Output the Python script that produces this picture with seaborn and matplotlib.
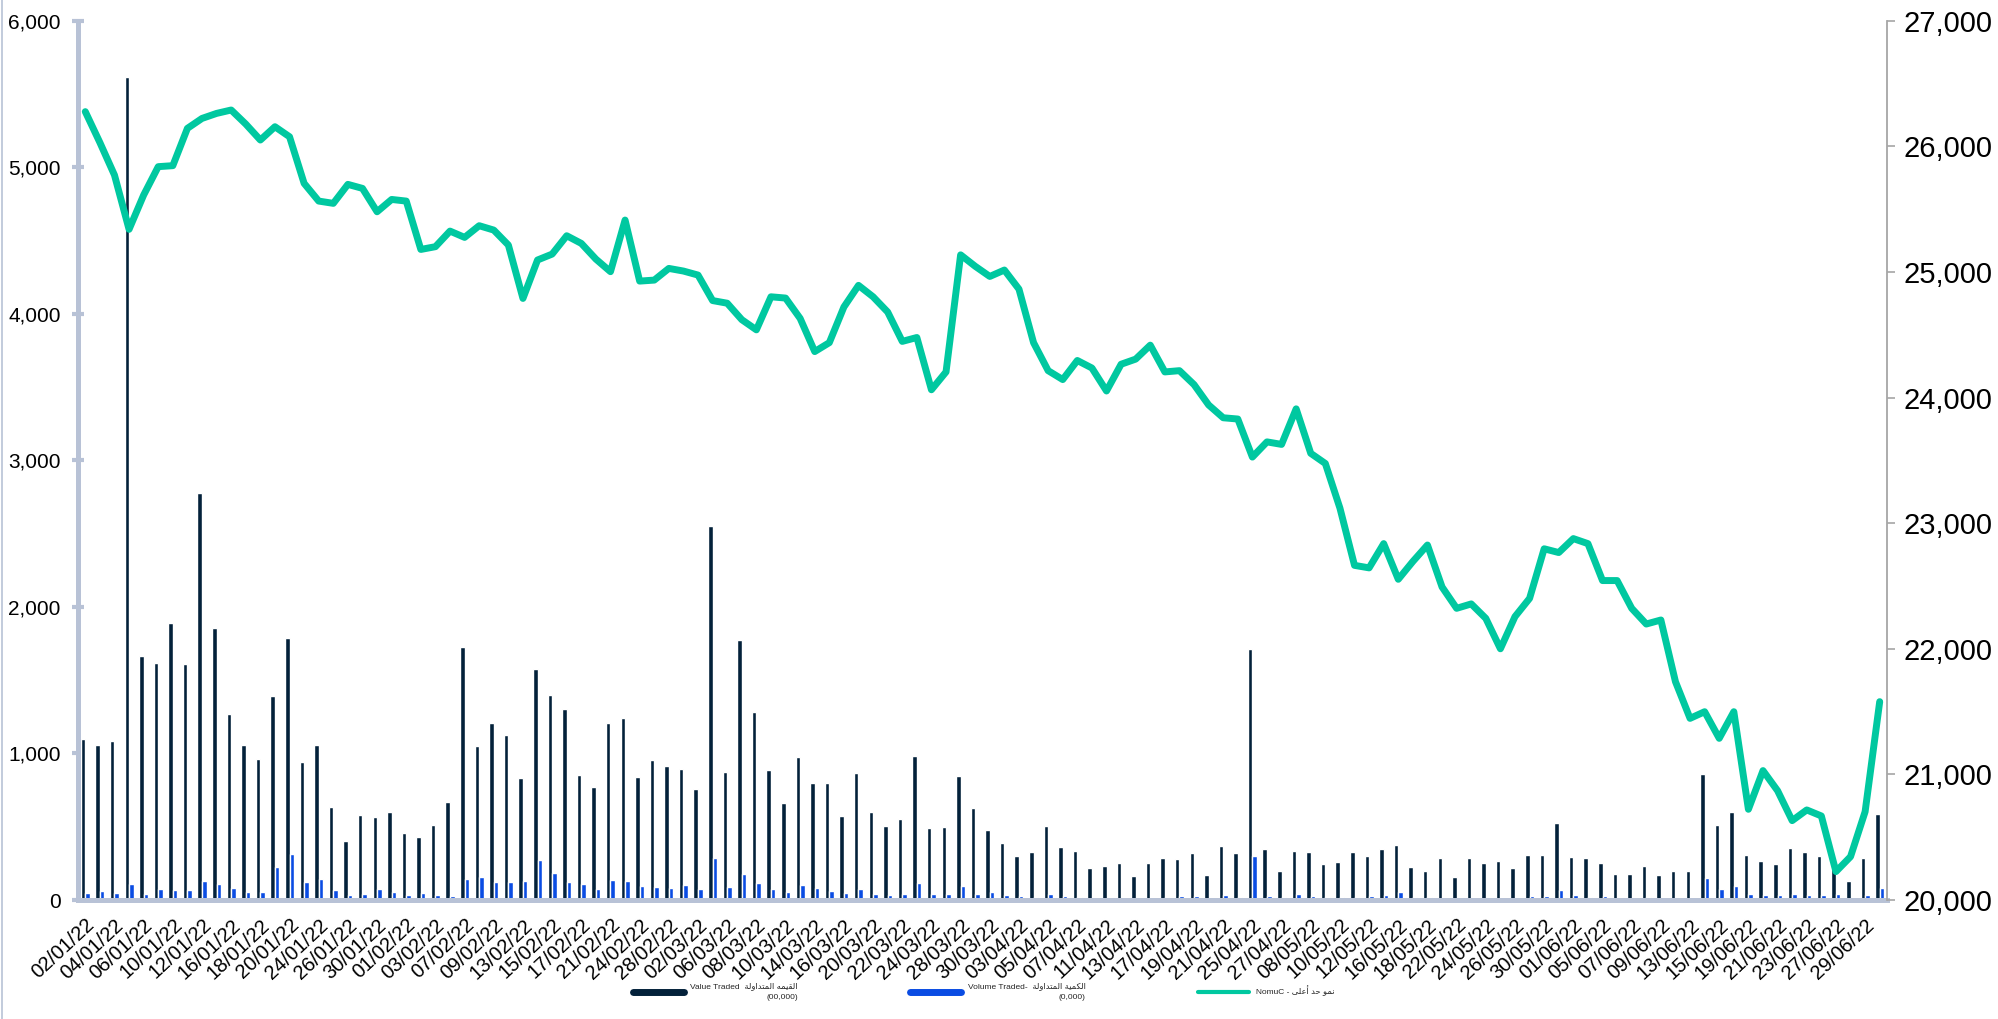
import numpy as np
import pandas as pd
import matplotlib
matplotlib.use("Agg")
import matplotlib.pyplot as plt
import matplotlib.ticker as mticker
from matplotlib.lines import Line2D
import seaborn as sns

# trading days (dd/mm/yy)
jan = ["02", "03", "04", "05", "06", "09", "10", "11", "12", "13", "16", "17", "18", "19", "20",
       "23", "24", "25", "26", "27", "30", "31"]
feb = ["01", "02", "03", "06", "07", "08", "09", "10", "13", "14", "15", "16", "17", "20", "21",
       "22", "24", "27", "28"]
mar = ["01", "02", "03", "06", "07", "08", "09", "10", "13", "14", "15", "16", "17", "20", "21",
       "22", "23", "24", "27", "28", "29", "30", "31"]
apr = ["03", "04", "05", "06", "07", "10", "11", "12", "13", "14", "17", "18", "19", "20", "21",
       "24", "25", "26", "27", "28"]
may = ["08", "09", "10", "11", "12", "15", "16", "17", "18", "19", "22", "23", "24", "25", "26",
       "29", "30", "31"]
jun = ["01", "02", "05", "06", "07", "08", "09", "12", "13", "14", "15", "16", "19", "20", "21",
       "22", "23", "26", "27", "28", "29", "30"]
dates = ([d + "/01/22" for d in jan] + [d + "/02/22" for d in feb] + [d + "/03/22" for d in mar]
         + [d + "/04/22" for d in apr] + [d + "/05/22" for d in may] + [d + "/06/22" for d in jun])

# value traded (00,000)
value_traded = [1100, 1060, 1085, 5615, 1665, 1615, 1890, 1610, 2780, 1855,
                1270, 1060, 965, 1395, 1785, 940, 1055, 635, 400, 580,
                565, 600, 455, 430, 515, 670, 1725, 1050, 1205, 1125,
                835, 1575, 1400, 1300, 850, 770, 1205, 1245, 840, 955,
                915, 895, 760, 2550, 875, 1775, 1280, 885, 665, 975,
                800, 800, 570, 865, 600, 505, 555, 980, 490, 495,
                845, 625, 480, 390, 300, 330, 505, 360, 335, 220,
                230, 250, 165, 255, 285, 280, 320, 170, 370, 320,
                1715, 350, 200, 335, 325, 245, 260, 330, 300, 345,
                375, 225, 200, 285, 160, 285, 250, 265, 215, 305,
                305, 525, 295, 285, 250, 180, 175, 235, 170, 195,
                200, 860, 510, 600, 305, 265, 245, 355, 330, 300,
                225, 130, 290, 585]

# volume traded (0,000)
volume_traded = [50, 61, 45, 109, 43, 73, 70, 66, 132, 107,
                 84, 55, 55, 225, 316, 120, 143, 66, 36, 43,
                 75, 52, 34, 45, 34, 30, 143, 157, 123, 125,
                 132, 273, 186, 125, 111, 73, 134, 127, 95, 86,
                 80, 102, 75, 284, 86, 180, 118, 75, 55, 100,
                 84, 64, 50, 75, 41, 34, 41, 118, 43, 43,
                 98, 43, 55, 34, 25, 23, 39, 30, 20, 7,
                 11, 14, 11, 11, 20, 30, 25, 14, 34, 23,
                 302, 30, 18, 41, 30, 20, 23, 20, 27, 34,
                 55, 23, 23, 14, 14, 7, 11, 14, 14, 30,
                 27, 68, 34, 20, 27, 16, 9, 20, 7, 16,
                 16, 152, 75, 95, 39, 32, 32, 41, 34, 34,
                 43, 5, 34, 84]

# NomuC index
nomuc = [26276, 26030, 25771, 25339, 25612, 25838, 25846, 26143, 26222, 26262,
         26289, 26177, 26050, 26156, 26076, 25705, 25564, 25546, 25697, 25665,
         25479, 25577, 25564, 25179, 25201, 25325, 25275, 25368, 25333, 25214,
         24789, 25095, 25142, 25288, 25227, 25102, 25002, 25413, 24927, 24935,
         25028, 25007, 24975, 24772, 24751, 24620, 24539, 24802, 24792, 24630,
         24366, 24437, 24721, 24893, 24802, 24681, 24447, 24478, 24062, 24204,
         25136, 25045, 24964, 25015, 24863, 24437, 24214, 24143, 24295, 24235,
         24052, 24265, 24306, 24417, 24204, 24214, 24103, 23941, 23839, 23829,
         23526, 23647, 23627, 23910, 23556, 23475, 23120, 22664, 22644, 22837,
         22553, 22695, 22826, 22492, 22322, 22357, 22242, 22000, 22256, 22401,
         22796, 22766, 22877, 22837, 22543, 22543, 22322, 22197, 22229, 21738,
         21446, 21499, 21287, 21499, 20722, 21030, 20870, 20632, 20717, 20669,
         20226, 20345, 20703, 21579]

dark = "#03213A"
blue = "#0A4CE3"
green = "#00C8A0"
axis_col = "#B8C2D6"

# arabic presentation forms: isolated, final, initial, medial
FORMS = {
    "\u0627": ("\uFE8D", "\uFE8E", None, None),
    "\u0623": ("\uFE83", "\uFE84", None, None),
    "\u0644": ("\uFEDD", "\uFEDE", "\uFEDF", "\uFEE0"),
    "\u0642": ("\uFED5", "\uFED6", "\uFED7", "\uFED8"),
    "\u064A": ("\uFEF1", "\uFEF2", "\uFEF3", "\uFEF4"),
    "\u0645": ("\uFEE1", "\uFEE2", "\uFEE3", "\uFEE4"),
    "\u0647": ("\uFEE9", "\uFEEA", "\uFEEB", "\uFEEC"),
    "\u062A": ("\uFE95", "\uFE96", "\uFE97", "\uFE98"),
    "\u062F": ("\uFEA9", "\uFEAA", None, None),
    "\u0648": ("\uFEED", "\uFEEE", None, None),
    "\u0629": ("\uFE93", "\uFE94", None, None),
    "\u0643": ("\uFED9", "\uFEDA", "\uFEDB", "\uFEDC"),
    "\u0646": ("\uFEE5", "\uFEE6", "\uFEE7", "\uFEE8"),
    "\u062D": ("\uFEA1", "\uFEA2", "\uFEA3", "\uFEA4"),
    "\u0639": ("\uFEC9", "\uFECA", "\uFECB", "\uFECC"),
    "\u0649": ("\uFEEF", "\uFEF0", None, None),
}


def ar(s):
    # shape and put in visual (left to right) order
    out = []
    for i, ch in enumerate(s):
        f = FORMS.get(ch)
        if f is None:
            out.append(ch)
            continue
        prev = FORMS.get(s[i - 1]) if i > 0 else None
        nxt = FORMS.get(s[i + 1]) if i + 1 < len(s) else None
        jp = prev is not None and prev[2] is not None
        jn = f[2] is not None and nxt is not None
        if jp and jn:
            out.append(f[3])
        elif jp:
            out.append(f[1])
        elif jn:
            out.append(f[2])
        else:
            out.append(f[0])
    return "".join(reversed(out))


lab_value = "Value Traded  " + ar("القيمه المتداولة") + "\n(00,000)"
lab_volume = "Volume Traded-  " + ar("الكمية المتداولة") + "\n(0,000)"
lab_nomu = "NomuC - " + ar("نمو حد أعلى")

n = len(dates)
df = pd.DataFrame({
    "date": dates * 2,
    "value": value_traded + volume_traded,
    "series": ["value"] * n + ["volume"] * n,
})

sns.set_style("white")
plt.rcParams["font.family"] = ["Liberation Sans", "DejaVu Sans"]

fig = plt.figure(figsize=(19.99, 10.19), dpi=100)
ax = fig.add_axes([78 / 1999, 1 - 900 / 1019, 1809 / 1999, 879.3 / 1019])

sns.barplot(data=df, x="date", y="value", hue="series", hue_order=["value", "volume"],
            palette=[dark, blue], width=0.62, gap=0, saturation=1, ax=ax, legend=False)

ax2 = ax.twinx()
sns.lineplot(x=np.arange(n), y=nomuc, ax=ax2, color=green, linewidth=5,
             solid_joinstyle="round", solid_capstyle="round")

ax.set_xlim(-0.5, n - 0.5)
ax.set_ylim(0, 6000)
ax2.set_ylim(20000, 27000)
ax.set_xlabel("")
ax.set_ylabel("")
ax2.set_ylabel("")

ax.set_yticks(np.arange(0, 6001, 1000))
ax2.set_yticks(np.arange(20000, 27001, 1000))
ax.yaxis.set_major_formatter(mticker.StrMethodFormatter("{x:,.0f}"))
ax2.yaxis.set_major_formatter(mticker.StrMethodFormatter("{x:,.0f}"))

ax.set_xticks(range(0, n, 2))
ax.set_xticklabels([dates[i] for i in range(0, n, 2)], rotation=43, ha="right",
                   rotation_mode="anchor", fontsize=14.5)

for s in ["top", "right"]:
    ax.spines[s].set_visible(False)
for s in ["top", "left", "bottom"]:
    ax2.spines[s].set_visible(False)
ax.spines["left"].set_color(axis_col)
ax.spines["left"].set_linewidth(3.6)
ax.spines["bottom"].set_color(axis_col)
ax.spines["bottom"].set_linewidth(3.6)
ax2.spines["right"].set_color("#A6A6A6")
ax2.spines["right"].set_linewidth(1.3)

ax.tick_params(axis="y", direction="inout", length=9, width=3, color=axis_col,
               labelsize=15, pad=8, labelcolor="black")
ax.tick_params(axis="x", length=0, pad=11, labelcolor="black")
ax2.tick_params(axis="y", direction="out", length=6, width=1.2, color="#A6A6A6",
                labelsize=21, pad=6, labelcolor="black")

# thin frame line at the left edge
fig.add_artist(Line2D([0.0012, 0.0012], [0, 1], transform=fig.transFigure,
                      color=axis_col, linewidth=1.2))

handles = [Line2D([], [], color=dark, linewidth=5),
           Line2D([], [], color=blue, linewidth=5),
           Line2D([], [], color=green, linewidth=3)]
leg = fig.legend(handles, [lab_value, lab_volume, lab_nomu], loc="center",
                 bbox_to_anchor=(0.492, 1 - 992 / 1019), ncol=3, frameon=False,
                 prop={"family": ["Liberation Sans", "DejaVu Sans"], "size": 6},
                 handlelength=6.1, handletextpad=0.8, columnspacing=13.5)
for t in leg.get_texts():
    t.set_multialignment("right")
    t.set_linespacing(1.8)

fig.savefig("out.png", dpi=100)
